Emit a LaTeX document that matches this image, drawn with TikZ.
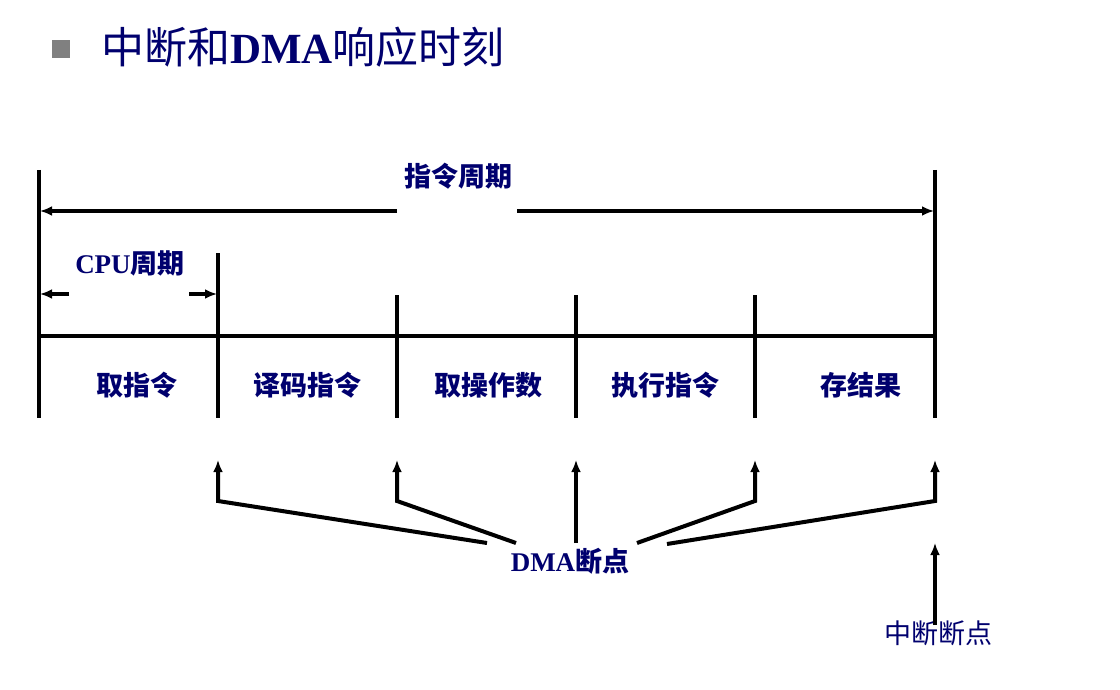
\documentclass[tikz,border=0pt]{standalone}
\usepackage{fontspec}
\setmainfont{Liberation Serif}
\newfontfamily\cjk{Noto Sans CJK SC}
\usetikzlibrary{arrows.meta}
\definecolor{titleblue}{RGB}{0,0,110}
\definecolor{bulletgray}{RGB}{128,128,128}
\begin{document}
\begin{tikzpicture}[x=1pt,y=-1pt,
  bar/.style={line width=4pt},
  arr/.style={line width=4pt,-{Latex[length=12pt,width=10pt]}},
  lbl/.style={text=titleblue,inner sep=0pt,font=\fontsize{27}{30}\selectfont\bfseries},
  ttl/.style={text=titleblue,inner sep=0pt,anchor=west,font=\fontsize{43}{47}\selectfont\bfseries}]
\useasboundingbox (0,0) rectangle (1120,690);
% title
\fill[bulletgray] (52,40) rectangle (70,58);
\node[ttl] (title) at (101,47) {{\cjk\mdseries 中断和}DMA{\cjk\mdseries 响应时刻}};
% frame coordinates
\coordinate (L0t) at (39,170);   \coordinate (L0b) at (39,418);
\coordinate (L5t) at (935,170);  \coordinate (L5b) at (935,418);
\coordinate (L1t) at (218,253);  \coordinate (L1b) at (218,418);
\coordinate (L2t) at (397,295);  \coordinate (L2b) at (397,418);
\coordinate (L3t) at (576,295);  \coordinate (L3b) at (576,418);
\coordinate (L4t) at (755,295);  \coordinate (L4b) at (755,418);
\coordinate (Hl) at (39,336);    \coordinate (Hr) at (935,336);
\draw[bar] (L0t) -- (L0b);
\draw[bar] (L5t) -- (L5b);
\draw[bar] (L1t) -- (L1b);
\draw[bar] (L2t) -- (L2b);
\draw[bar] (L3t) -- (L3b);
\draw[bar] (L4t) -- (L4b);
\draw[bar] (Hl) -- (Hr);
% instruction cycle
\node[lbl] (ic) at (458,176) {\cjk 指令周期};
\coordinate (icA) at (397,211); \coordinate (icAe) at (40,211);
\coordinate (icB) at (517,211); \coordinate (icBe) at (934,211);
\draw[arr] (icA) -- (icAe);
\draw[arr] (icB) -- (icBe);
% CPU cycle
\node[lbl] (cpu) at (130,263) {CPU{\cjk 周期}};
\coordinate (cA) at (69,294); \coordinate (cAe) at (40,294);
\coordinate (cB) at (189,294); \coordinate (cBe) at (217,294);
\draw[arr] (cA) -- (cAe);
\draw[arr] (cB) -- (cBe);
% stages
\node[lbl] (s1) at (137,385) {\cjk 取指令};
\node[lbl] (s2) at (307,385) {\cjk 译码指令};
\node[lbl] (s3) at (488,385) {\cjk 取操作数};
\node[lbl] (s4) at (665,385) {\cjk 执行指令};
\node[lbl] (s5) at (861,385) {\cjk 存结果};
% DMA breakpoints
\node[lbl] (dma) at (570,561) {DMA{\cjk 断点}};
\coordinate (d1) at (218,460); \coordinate (d1k) at (218,501); \coordinate (d1e) at (487,543);
\coordinate (d2) at (397,460); \coordinate (d2k) at (397,501); \coordinate (d2e) at (516,543);
\coordinate (d3) at (576,460); \coordinate (d3e) at (576,543);
\coordinate (d4) at (755,460); \coordinate (d4k) at (755,501); \coordinate (d4e) at (637,543);
\coordinate (d5) at (935,460); \coordinate (d5k) at (935,501); \coordinate (d5e) at (667,544);
\draw[arr] (d1e) -- (d1k) -- (d1);
\draw[arr] (d2e) -- (d2k) -- (d2);
\draw[arr] (d3e) -- (d3);
\draw[arr] (d4e) -- (d4k) -- (d4);
\draw[arr] (d5e) -- (d5k) -- (d5);
% interrupt breakpoint
\node[lbl,font=\fontsize{27}{30}\selectfont] (intr) at (938,633) {\cjk 中断断点};
\coordinate (i0) at (935,625); \coordinate (i1) at (935,543);
\draw[arr] (i0) -- (i1);
\end{tikzpicture}
\end{document}
